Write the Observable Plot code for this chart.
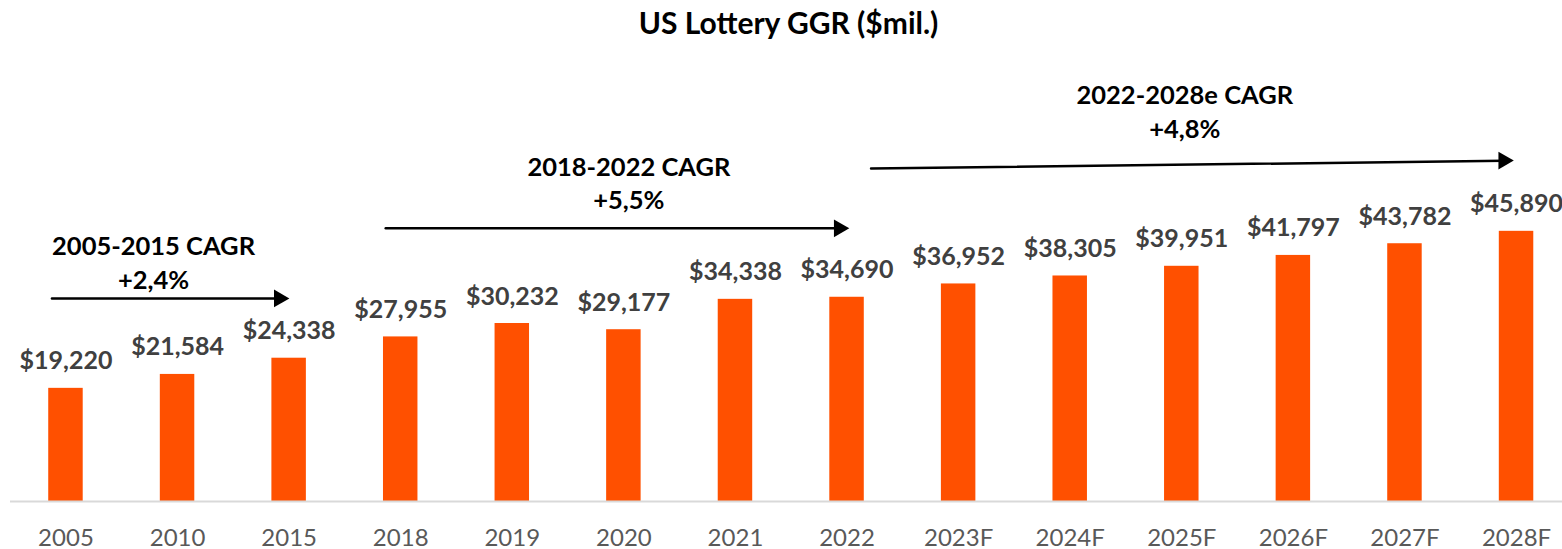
<!DOCTYPE html>
<html>
<head>
<meta charset="utf-8">
<script src="https://cdn.jsdelivr.net/npm/d3@7"></script>
<script src="https://cdn.jsdelivr.net/npm/@observablehq/plot@0.6"></script>
<style>
  html, body { margin: 0; padding: 0; background: #fff; overflow: hidden; }
  #chart svg { display: block; }
</style>
</head>
<body>
<div id="chart"></div>
<script>
// ---- data ----
const chartTitle = "US Lottery GGR ($mil.)";
const years = ["2005","2010","2015","2018","2019","2020","2021","2022","2023F","2024F","2025F","2026F","2027F","2028F"];
const ggr = [19220, 21584, 24338, 27955, 30232, 29177, 34338, 34690, 36952, 38305, 39951, 41797, 43782, 45890];

// CAGR annotations
const cagrTitles = ["2005-2015 CAGR", "2018-2022 CAGR", "2022-2028e CAGR"];
const cagrRates = ["+2,4%", "+5,5%", "+4,8%"];
const cagrFrom = ["2005", "2018", "2022"];
const cagrTo = ["2015", "2022", "2028F"];
const cagrCenter = ["2010", "2020", "2025F"];
const cagrLevelStart = [34500, 46400, 56500];
const cagrLevelEnd = [34500, 46400, 57900];
const cagrTextLevel = [36100, 49600, 61700];

// ---- build ----
const data = years.map((year, i) => ({year, value: ggr[i]}));
const ann = cagrTitles.map((t, i) => ({
  title: t, rate: cagrRates[i], from: cagrFrom[i], to: cagrTo[i], center: cagrCenter[i],
  y1: cagrLevelStart[i], y2: cagrLevelEnd[i], ty: cagrTextLevel[i]
}));

// pixel layout tweaks per annotation
const layout = [
  {start: -14, tip: 0, tdx: -24},
  {start: -15, tip: 2, tdx: 5},
  {start: 24, tip: -3, tdx: 3}
];

const fmt = d3.format(",");
const FONT = "Lato, 'Open Sans', sans-serif";

const annMarks = ann.flatMap((a, i) => {
  const L = layout[i];
  return [
    Plot.arrow([a], {
      x1: "from", y1: "y1", x2: "to", y2: "y2",
      insetStart: L.start, insetEnd: 10 - L.tip,
      headLength: 0, stroke: "black", strokeWidth: 2.5
    }),
    Plot.dot([a], {
      x: "to", y: "y2", symbol: "triangle", r: 6.6, rotate: 90,
      fill: "black", stroke: null, dx: L.tip - 10
    }),
    Plot.text([a], {
      x: "center", y: "ty", text: d => d.title + "\n" + d.rate,
      lineAnchor: "bottom", lineHeight: 1.33, dx: L.tdx,
      fontSize: 25.5, fontWeight: "bold", fill: "black"
    })
  ];
});

const chart = Plot.plot({
  width: 1562,
  height: 549,
  marginLeft: 10,
  marginRight: 0,
  marginTop: 30,
  marginBottom: 48,
  style: {fontFamily: FONT, fontSize: "24px", background: "#fff", overflow: "visible"},
  x: {domain: years, paddingInner: 0.691, paddingOuter: 0.3, align: 0.571, round: false, label: null},
  y: {domain: [0, 80000], axis: null},
  marks: [
    Plot.barY(data, {x: "year", y: "value", fill: "#FF5000"}),
    Plot.ruleY([0], {stroke: "#d9d9d9", strokeWidth: 2}),
    Plot.axisX({tickSize: 0, tickPadding: 27, fontSize: 24, color: "#595959", label: null}),
    Plot.text(data, {
      x: "year", y: "value", text: d => "$" + fmt(d.value),
      dy: -19, lineAnchor: "bottom", fontSize: 25, fontWeight: "bold", fill: "#404040"
    }),
    ...annMarks,
    Plot.text([chartTitle], {
      text: d => d, frameAnchor: "top", lineAnchor: "bottom", dy: 3, dx: 2,
      fontSize: 30, fontWeight: "bold", fill: "black"
    })
  ]
});
document.getElementById("chart").appendChild(chart);
</script>
</body>
</html>
